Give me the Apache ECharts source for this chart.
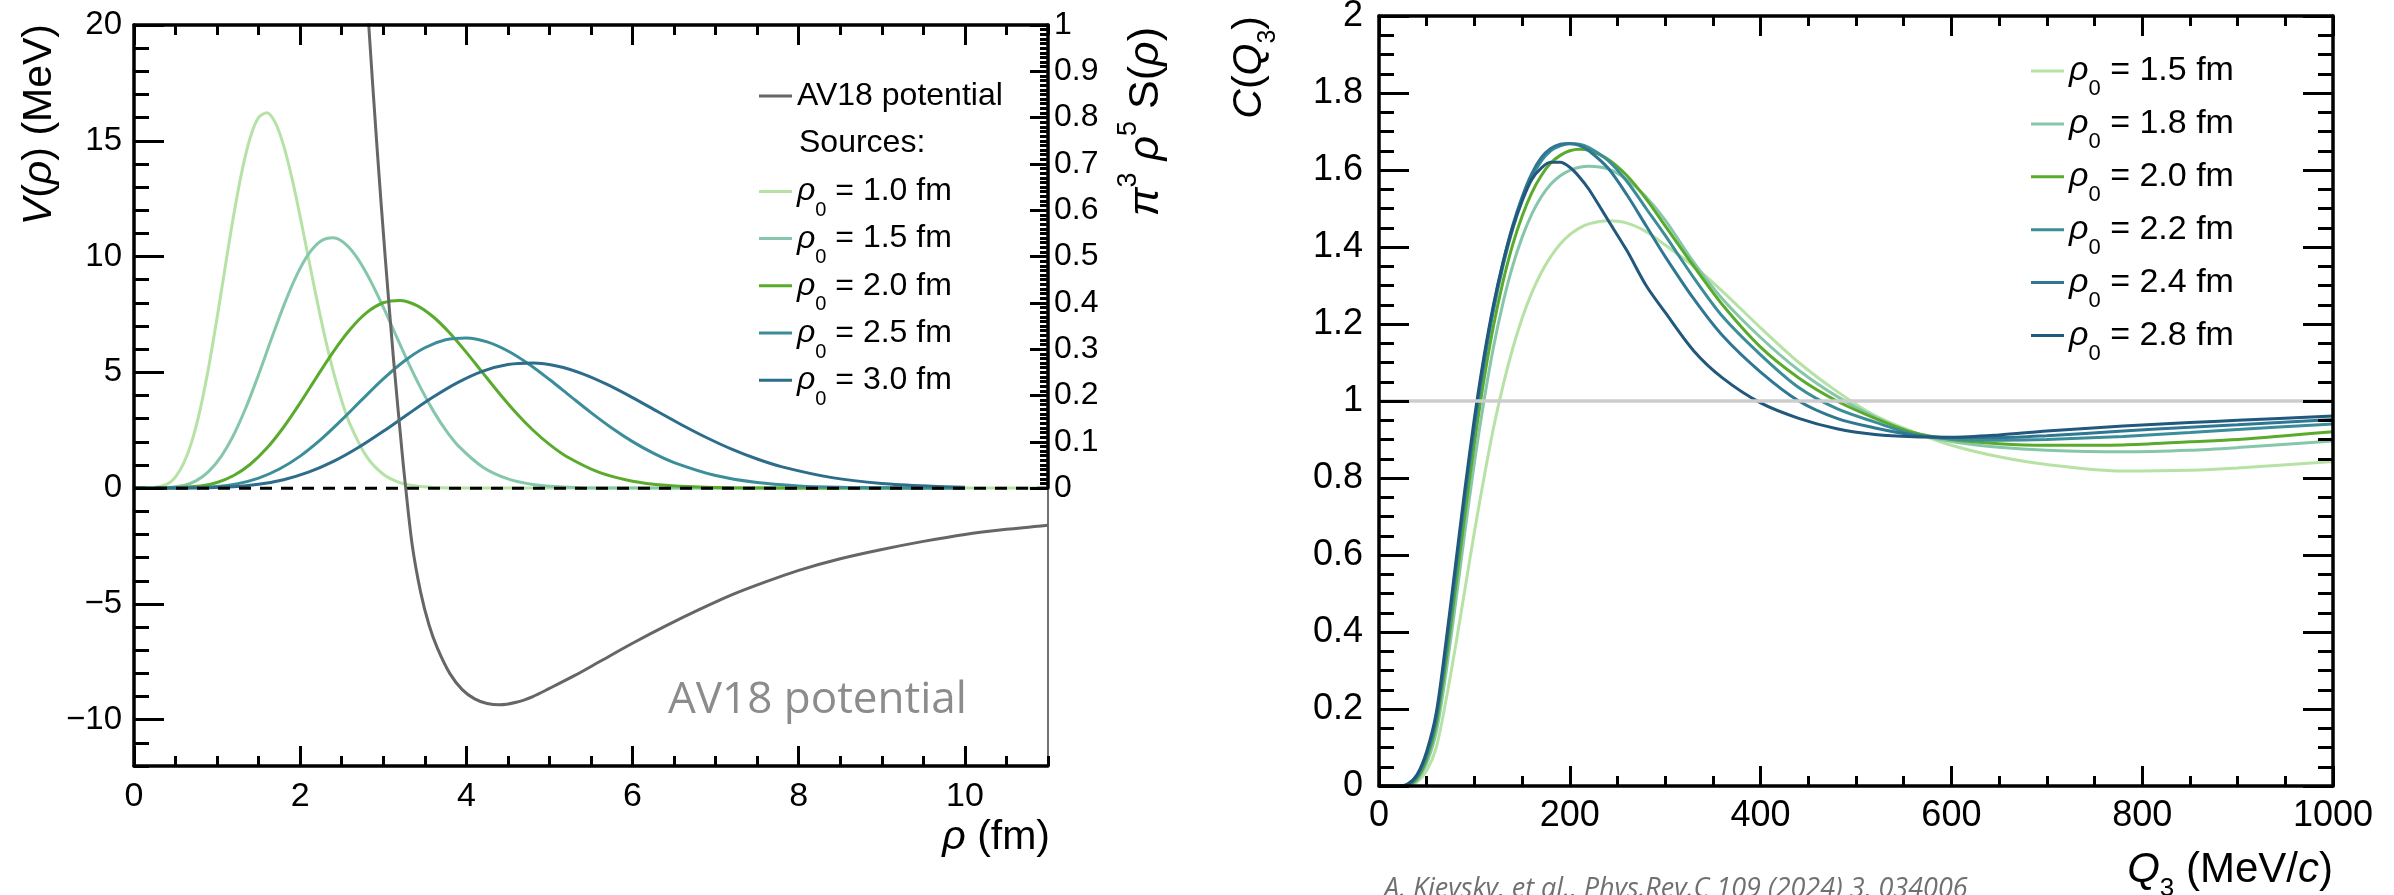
<!DOCTYPE html>
<html>
<head>
<meta charset="utf-8">
<script src="https://cdn.jsdelivr.net/npm/echarts@6/dist/echarts.min.js"></script>
<style>
  html, body { margin: 0; padding: 0; background: #ffffff; }
  #chart { width: 2394px; height: 895px; }
</style>
</head>
<body>
<div id="chart"></div>
<script>
// ---------------- Left panel: AV18 potential and hyperradial sources ----------------
// AV18 hyperradial potential V(rho) in MeV
const av18Rho = [2.625, 2.725, 2.825, 2.925, 3.025, 3.125, 3.225, 3.27, 3.35, 3.45, 3.55, 3.65, 3.8, 3.95, 4.1, 4.25, 4.4, 4.6, 4.8, 5.0, 5.3, 5.6, 6.0, 6.4, 6.8, 7.2, 7.6, 8.0, 8.5, 9.0, 9.5, 10.0, 10.5, 11.0];
const av18V   = [31.9, 25.7, 20.0, 14.7, 9.9, 5.5, 1.6, 0.0, -2.5, -4.5, -5.9, -6.9, -8.0, -8.7, -9.1, -9.3, -9.36, -9.25, -9.0, -8.65, -8.1, -7.5, -6.7, -5.95, -5.25, -4.6, -4.05, -3.55, -3.05, -2.65, -2.3, -2.0, -1.78, -1.6];

// pi^3 rho^5 S(rho) for Gaussian sources of size rho0, as [rho (fm), value]
const source10 = [[0,0],[0.2,0.0003],[0.4,0.0087],[0.5,0.0243],[0.6,0.0543],[0.7,0.103],[0.8,0.1728],[0.9,0.2627],[1.0,0.3679],[1.1,0.4803],[1.2,0.5895],[1.3,0.685],[1.4,0.7577],[1.5,0.8004],[1.6,0.8106],[1.7,0.7891],[1.8,0.74],[1.9,0.6698],[2.0,0.5861],[2.1,0.4964],[2.2,0.4075],[2.3,0.3245],[2.4,0.2509],[2.5,0.1885],[2.6,0.1377],[2.8,0.0678],[3.0,0.03],[3.2,0.012],[3.4,0.0043],[3.6,0.0014],[4.0,0.0001],[11,0]];
const source15 = [[0,0],[0.3,0.0002],[0.6,0.0058],[0.75,0.0162],[0.9,0.0362],[1.05,0.0687],[1.2,0.1152],[1.35,0.1751],[1.5,0.2453],[1.65,0.3202],[1.8,0.393],[1.95,0.4567],[2.1,0.5051],[2.25,0.5336],[2.4,0.5404],[2.55,0.5261],[2.7,0.4933],[2.85,0.4465],[3.0,0.3907],[3.15,0.3309],[3.3,0.2717],[3.45,0.2163],[3.6,0.1673],[3.75,0.1257],[3.9,0.0918],[4.2,0.0452],[4.5,0.02],[4.8,0.008],[5.1,0.0029],[5.4,0.0009],[6.0,0.0001],[10,0]];
const source20 = [[0,0],[0.4,0.0002],[0.8,0.0044],[1.0,0.0122],[1.2,0.0272],[1.4,0.0515],[1.6,0.0864],[1.8,0.1314],[2.0,0.184],[2.2,0.2402],[2.4,0.2948],[2.6,0.3425],[2.8,0.3789],[3.0,0.4002],[3.2,0.4053],[3.4,0.3946],[3.6,0.37],[3.8,0.3349],[4.0,0.2931],[4.2,0.2482],[4.4,0.2038],[4.6,0.1623],[4.8,0.1255],[5.0,0.0943],[5.2,0.0689],[5.6,0.0339],[6.0,0.015],[6.4,0.006],[6.8,0.0022],[7.2,0.0007],[8.0,0.0001],[10,0]];
const source25 = [[0,0],[0.5,0.0001],[1.0,0.0035],[1.25,0.0097],[1.5,0.0217],[1.75,0.0412],[2.0,0.0691],[2.25,0.1051],[2.5,0.1472],[2.75,0.1921],[3.0,0.2358],[3.25,0.274],[3.5,0.3031],[3.75,0.3202],[4.0,0.3242],[4.25,0.3157],[4.5,0.296],[4.75,0.2679],[5.0,0.2344],[5.25,0.1986],[5.5,0.163],[5.75,0.1298],[6.0,0.1004],[6.25,0.0754],[6.5,0.0551],[7.0,0.0271],[7.5,0.012],[8.0,0.0048],[8.5,0.0017],[9.0,0.0006],[10,0]];
const source30 = [[0,0],[0.6,0.0001],[1.2,0.0029],[1.5,0.0081],[1.8,0.0181],[2.1,0.0343],[2.4,0.0576],[2.7,0.0876],[3.0,0.1226],[3.3,0.1601],[3.6,0.1965],[3.9,0.2283],[4.2,0.2526],[4.5,0.2668],[4.8,0.2702],[5.1,0.2631],[5.4,0.2467],[5.7,0.2233],[6.0,0.1954],[6.3,0.1655],[6.6,0.1358],[6.9,0.1082],[7.2,0.0836],[7.5,0.0628],[7.8,0.0459],[8.4,0.0226],[9.0,0.01],[9.6,0.004],[10,0.002]];
const sourceSizes = ['1.0', '1.5', '2.0', '2.5', '3.0'];

// ---------------- Right panel: three-body correlation function ----------------
const q3 = [0, 20, 30, 40, 50, 60, 70, 80, 90, 100, 110, 120, 130, 140, 150, 160, 170, 180, 190, 200, 210, 220, 240, 260, 280, 300, 330, 360, 400, 440, 480, 520, 560, 600, 650, 700, 780, 850, 900, 1000];
const corr15 = [0, 0, 0.001, 0.01, 0.04, 0.1, 0.22, 0.36, 0.51, 0.66, 0.8, 0.93, 1.04, 1.135, 1.215, 1.28, 1.333, 1.375, 1.408, 1.432, 1.449, 1.46, 1.468, 1.462, 1.44, 1.405, 1.35, 1.285, 1.19, 1.1, 1.025, 0.962, 0.92, 0.885, 0.855, 0.835, 0.818, 0.82, 0.826, 0.843];
const corr18 = [0, 0, 0.001, 0.015, 0.06, 0.14, 0.29, 0.47, 0.66, 0.84, 1.0, 1.14, 1.255, 1.35, 1.425, 1.485, 1.53, 1.563, 1.585, 1.599, 1.607, 1.61, 1.603, 1.575, 1.53, 1.47, 1.36, 1.265, 1.165, 1.08, 1.012, 0.958, 0.917, 0.895, 0.88, 0.872, 0.868, 0.872, 0.879, 0.896];
const corr20 = [0, 0, 0.002, 0.02, 0.07, 0.16, 0.32, 0.51, 0.705, 0.89, 1.055, 1.195, 1.31, 1.405, 1.48, 1.54, 1.585, 1.618, 1.638, 1.65, 1.654, 1.651, 1.628, 1.585, 1.525, 1.455, 1.35, 1.25, 1.14, 1.06, 1.0, 0.955, 0.918, 0.9, 0.889, 0.885, 0.886, 0.894, 0.9, 0.92];
const corr22 = [0, 0, 0.003, 0.025, 0.08, 0.175, 0.345, 0.545, 0.745, 0.93, 1.095, 1.235, 1.35, 1.445, 1.52, 1.58, 1.623, 1.65, 1.663, 1.668, 1.667, 1.658, 1.625, 1.57, 1.5, 1.43, 1.32, 1.22, 1.12, 1.035, 0.98, 0.945, 0.914, 0.901, 0.898, 0.9, 0.908, 0.918, 0.926, 0.94];
const corr24 = [0, 0, 0.004, 0.028, 0.085, 0.18, 0.355, 0.555, 0.755, 0.94, 1.105, 1.245, 1.36, 1.455, 1.53, 1.59, 1.632, 1.656, 1.667, 1.669, 1.664, 1.65, 1.605, 1.535, 1.455, 1.375, 1.265, 1.17, 1.075, 1.0, 0.955, 0.93, 0.912, 0.905, 0.905, 0.91, 0.922, 0.932, 0.938, 0.952];
const corr28 = [0, 0, 0.005, 0.03, 0.09, 0.19, 0.37, 0.57, 0.77, 0.955, 1.115, 1.25, 1.36, 1.45, 1.52, 1.575, 1.605, 1.62, 1.62, 1.607, 1.582, 1.55, 1.47, 1.39, 1.3, 1.23, 1.13, 1.06, 0.995, 0.955, 0.928, 0.913, 0.907, 0.906, 0.912, 0.922, 0.935, 0.944, 0.95, 0.961];
const corrSizes = ['1.5', '1.8', '2.0', '2.2', '2.4', '2.8'];
const unityLevel = 1;

// ---------------- Tick labels ----------------
const rhoTicks = [0, 2, 4, 6, 8, 10];
const vTicks = [-10, -5, 0, 5, 10, 15, 20];
const sTicks = [0, 0.1, 0.2, 0.3, 0.4, 0.5, 0.6, 0.7, 0.8, 0.9, 1];
const q3Ticks = [0, 200, 400, 600, 800, 1000];
const cTicks = [0, 0.2, 0.4, 0.6, 0.8, 1, 1.2, 1.4, 1.6, 1.8, 2];

// ---------------- Styling ----------------
const FONT = '"Liberation Sans", Arial, Helvetica, sans-serif';
const sourceColors = ['#b6e2a6', '#86c7ab', '#5aab2c', '#3b8d9a', '#2d6c8a'];
const corrColors = ['#b6e2a6', '#86c7ab', '#5aab2c', '#3b8d9a', '#2f7793', '#21587c'];

function steps(a, b, step) {
  const out = [];
  const n = Math.round((b - a) / step);
  for (let i = 0; i <= n; i++) out.push(+(a + i * step).toFixed(4));
  return out;
}

function axis(o) {
  return {
    type: 'value', gridIndex: o.grid, position: o.pos, min: o.min, max: o.max,
    show: o.show !== false,
    axisLine: { show: !!o.line, onZero: false, lineStyle: { color: '#000', width: 3.5 } },
    axisTick: { show: !!o.ticks, inside: true, length: o.len || 0, customValues: o.ticks || [], lineStyle: { color: '#000', width: 3 } },
    axisLabel: o.labels
      ? { show: true, customValues: o.labels, formatter: o.fmt, margin: o.margin, color: '#000', fontFamily: FONT, fontSize: o.fs }
      : { show: false },
    splitLine: { show: false }, minorTick: { show: false }, minorSplitLine: { show: false },
    axisPointer: { show: false }, silent: true, z: 5
  };
}

const fmtNum = v => (v < 0 ? '\u2212' + Math.abs(v) : String(+v.toFixed(1)));

const xAxes = [
  // left panel, rho axis
  axis({ grid: 0, pos: 'bottom', min: 0, max: 11, line: true, ticks: rhoTicks, len: 20, labels: rhoTicks, fmt: fmtNum, margin: 14, fs: 34 }),
  axis({ grid: 0, pos: 'bottom', min: 0, max: 11, ticks: steps(0, 11, 0.5), len: 10 }),
  axis({ grid: 0, pos: 'top', min: 0, max: 11, line: true, ticks: rhoTicks, len: 20 }),
  axis({ grid: 0, pos: 'top', min: 0, max: 11, ticks: steps(0, 11, 0.5), len: 10 }),
  // right panel, Q3 axis
  axis({ grid: 1, pos: 'bottom', min: 0, max: 1000, line: true, ticks: q3Ticks, len: 20, labels: q3Ticks, fmt: fmtNum, margin: 12, fs: 36 }),
  axis({ grid: 1, pos: 'bottom', min: 0, max: 1000, ticks: steps(0, 1000, 50), len: 10 }),
  axis({ grid: 1, pos: 'top', min: 0, max: 1000, line: true, ticks: q3Ticks, len: 20 }),
  axis({ grid: 1, pos: 'top', min: 0, max: 1000, ticks: steps(0, 1000, 50), len: 10 }),
  // left panel, hidden rho axis for the source profiles
  axis({ grid: 2, pos: 'bottom', min: 0, max: 11, show: false })
];

const yAxes = [
  // left panel, potential axis
  axis({ grid: 0, pos: 'left', min: -12, max: 20, line: true, ticks: vTicks, len: 30, labels: vTicks, fmt: fmtNum, margin: 12, fs: 33 }),
  axis({ grid: 0, pos: 'left', min: -12, max: 20, ticks: steps(-12, 20, 1), len: 15 }),
  // right panel, correlation axis
  axis({ grid: 1, pos: 'left', min: 0, max: 2, line: true, ticks: cTicks, len: 30, labels: cTicks, fmt: fmtNum, margin: 16, fs: 36 }),
  axis({ grid: 1, pos: 'left', min: 0, max: 2, ticks: steps(0, 2, 0.05), len: 15 }),
  axis({ grid: 1, pos: 'right', min: 0, max: 2, line: true, ticks: cTicks, len: 30 }),
  axis({ grid: 1, pos: 'right', min: 0, max: 2, ticks: steps(0, 2, 0.05), len: 15 }),
  // left panel, source axis on the right
  axis({ grid: 2, pos: 'right', min: 0, max: 1, line: true, ticks: sTicks, len: 18, labels: sTicks, fmt: fmtNum, margin: 6, fs: 32 }),
  axis({ grid: 2, pos: 'right', min: 0, max: 1, ticks: steps(0, 1, 0.01), len: 8 })
];

function lineSeries(name, data, color, xi, yi, extra) {
  return Object.assign({
    type: 'line', name, data, xAxisIndex: xi, yAxisIndex: yi,
    symbol: 'none', showSymbol: false, smooth: 0.3, animation: false, silent: true,
    lineStyle: { color, width: 3 }, itemStyle: { color }, emphasis: { disabled: true }, z: 2
  }, extra || {});
}

const sources = [source10, source15, source20, source25, source30];
const series = [];
sources.forEach((d, i) => series.push(lineSeries('src ' + sourceSizes[i], d, sourceColors[i], 8, 6, { clip: false })));
series.push(lineSeries('zero', [[0, 0], [11, 0]], '#000', 0, 0, {
  smooth: false, z: 3, lineStyle: { color: '#000', width: 3, type: [12, 9] }
}));
series.push(lineSeries('AV18 potential', av18Rho.map((r, i) => [r, av18V[i]]), '#666666', 0, 0, { z: 4 }));

const corrs = [corr15, corr18, corr20, corr22, corr24, corr28];
corrs.forEach((c, i) => series.push(lineSeries('corr ' + corrSizes[i], q3.map((q, j) => [q, c[j]]), corrColors[i], 4, 2)));
series.push(lineSeries('unity', [[0, unityLevel], [1000, unityLevel]], '#cccccc', 4, 2, {
  smooth: false, z: 3, lineStyle: { color: '#cccccc', width: 3.5 }
}));

function legendRich(fs, subFs, shift) {
  return {
    r: { fontFamily: FONT, fontSize: fs, fontStyle: 'italic', color: '#000', lineHeight: 40 },
    s: { fontFamily: FONT, fontSize: subFs, color: '#000', lineHeight: 40, padding: [shift * 2, 0, 0, 0] },
    t: { fontFamily: FONT, fontSize: fs, color: '#000', lineHeight: 40 }
  };
}
const rhoLabel = name => '{r|\u03c1}{s|0}{t| = ' + name.split(' ')[1] + ' fm}';

const legendBase = {
  orient: 'vertical', icon: 'rect', itemWidth: 33, itemHeight: 3, padding: 0,
  selectedMode: false, inactiveColor: '#000'
};

function richTitle(fs) {
  return {
    n: { fontFamily: FONT, fontSize: fs, fill: '#000' },
    i: { fontFamily: FONT, fontSize: fs, fontStyle: 'italic', fill: '#000' },
    sub: { fontFamily: FONT, fontSize: Math.round(fs * 0.62), fill: '#000', padding: [Math.round(fs * 0.9), 0, 0, 0] },
    sup: { fontFamily: FONT, fontSize: Math.round(fs * 0.62), fill: '#000', padding: [0, 0, Math.round(fs * 0.8), 0] }
  };
}
function titleText(text, x, y, fs, rotated, align) {
  return {
    type: 'text', x, y, rotation: rotated ? Math.PI / 2 : 0, silent: true, z: 10,
    style: {
      text, rich: richTitle(fs), fontFamily: FONT, fontSize: fs, fill: '#000',
      align: align, textAlign: align, verticalAlign: 'middle', textVerticalAlign: 'middle'
    }
  };
}

const option = {
  animation: false,
  backgroundColor: '#ffffff',
  grid: [
    { left: 134, top: 25, width: 914, height: 741, show: true, borderColor: '#444', borderWidth: 1.5, backgroundColor: 'transparent', containLabel: false, outerBoundsMode: 'none' },
    { left: 1379, top: 16, width: 954, height: 770, show: false, containLabel: false, outerBoundsMode: 'none' },
    { left: 134, top: 25, width: 914, height: 463.1, show: false, containLabel: false, outerBoundsMode: 'none' }
  ],
  xAxis: xAxes,
  yAxis: yAxes,
  legend: [
    Object.assign({}, legendBase, {
      left: 759, top: 76, data: ['AV18 potential'],
      textStyle: { fontFamily: FONT, fontSize: 32, color: '#000', lineHeight: 40 }
    }),
    Object.assign({}, legendBase, {
      left: 759, top: 162.4, itemGap: -10.8, data: sourceSizes.map(s => 'src ' + s),
      formatter: rhoLabel,
      textStyle: { fontFamily: FONT, fontSize: 32, color: '#000', lineHeight: 40, rich: legendRich(32, 20, 19) }
    }),
    Object.assign({}, legendBase, {
      left: 2031, top: 42, itemGap: -5.1, data: corrSizes.map(s => 'corr ' + s),
      formatter: rhoLabel,
      textStyle: { fontFamily: FONT, fontSize: 34, color: '#000', lineHeight: 40, rich: legendRich(34, 22, 18) }
    })
  ],
  graphic: [
    titleText('{i|V}({i|\u03c1}) (MeV)', 40, 24, 41, true, 'right'),
    titleText('{i|\u03c0}{sup|3} {i|\u03c1}{sup|5} S({i|\u03c1})', 1146, 27, 43, true, 'right'),
    titleText('{i|\u03c1} (fm)', 1050, 838, 41, false, 'right'),
    titleText('{i|C}({i|Q}{sub|3})', 1250, 16, 41, true, 'right'),
    titleText('{i|Q}{sub|3} (MeV/{i|c})', 2333, 870, 42, false, 'right'),
    {
      type: 'text', x: 799, y: 143, silent: true, z: 10,
      style: { text: 'Sources:', fontFamily: FONT, fontSize: 32, fill: '#000', align: 'left', verticalAlign: 'middle', textAlign: 'left', textVerticalAlign: 'middle' }
    },
    {
      type: 'text', x: 668, y: 700, silent: true, z: 10,
      style: { text: 'AV18 potential', fontFamily: '"Open Sans", sans-serif', fontSize: 44, fill: '#8c8c8c', align: 'left', verticalAlign: 'middle', textAlign: 'left', textVerticalAlign: 'middle' }
    },
    {
      type: 'text', x: 1384, y: 889, silent: true, z: 10,
      style: { text: 'A. Kievsky, et al., Phys.Rev.C 109 (2024) 3, 034006', fontFamily: '"Open Sans", sans-serif', fontStyle: 'italic', fontSize: 27, fill: '#707070', align: 'left', verticalAlign: 'middle', textAlign: 'left', textVerticalAlign: 'middle' }
    }
  ],
  series: series
};

const chart = echarts.init(document.getElementById('chart'), null, { renderer: 'canvas' });
chart.setOption(option);
</script>
</body>
</html>
